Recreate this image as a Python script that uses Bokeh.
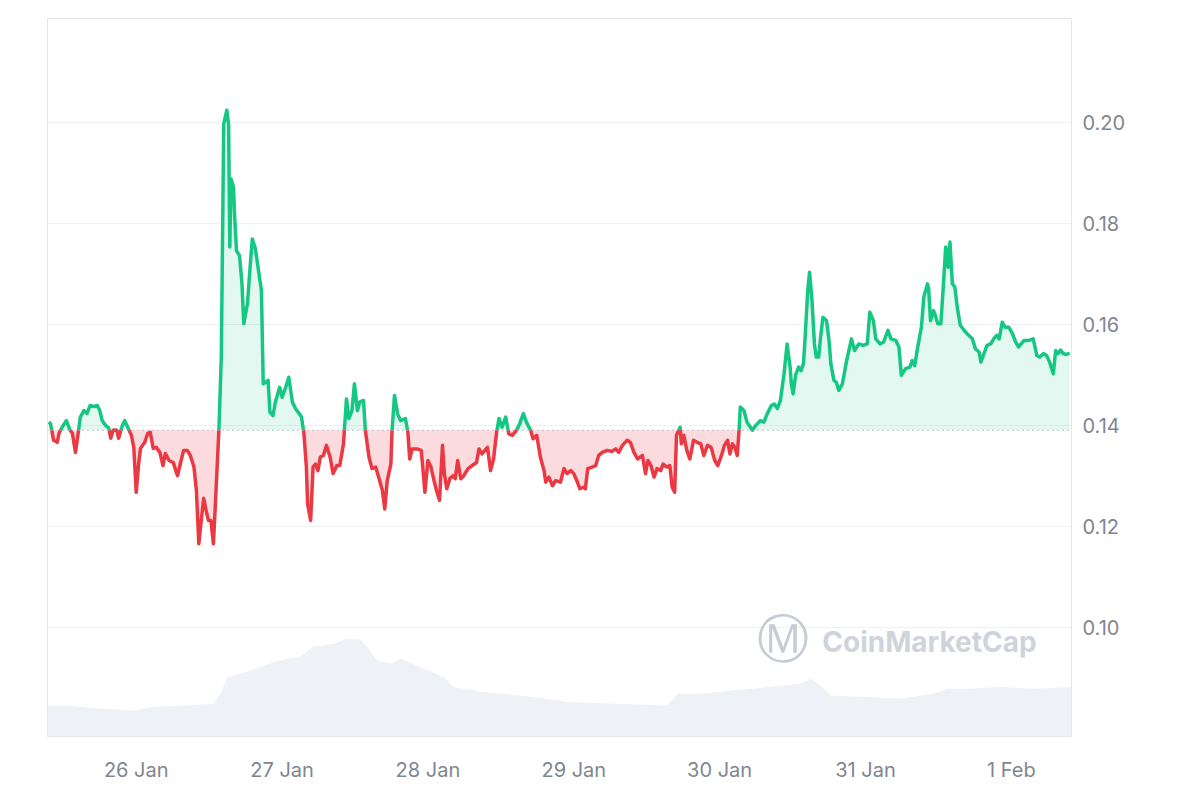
import numpy as np
from bokeh.plotting import figure
from bokeh.models import Range1d, FixedTicker, PrintfTickFormatter, Span, Label
from bokeh.embed import file_html
from bokeh.resources import INLINE

# ---- data -------------------------------------------------------------
# hours counted from 25 Jan 00:00
hours = [
    9.6, 9.9, 10.4, 11.0, 11.3, 11.8, 12.5, 13.1, 13.5, 14.0,
    14.4, 14.8, 15.4, 15.9, 16.4, 17.0, 17.6, 18.0, 18.4, 19.0,
    19.5, 19.8, 20.2, 20.8, 21.1, 21.7, 22.1, 22.6, 23.2, 23.6,
    24.0, 24.4, 24.7, 25.4, 25.9, 26.3, 26.8, 27.3, 27.9, 28.4,
    28.8, 29.4, 30.1, 30.5, 30.8, 31.3, 31.8, 32.4, 32.9, 33.5,
    33.9, 34.3, 34.7, 35.1, 35.6, 35.9, 36.3, 36.7, 37.0, 37.6,
    38.0, 38.4, 38.9, 39.2, 39.4, 39.6, 40.0, 40.2, 40.5, 41.0,
    41.4, 41.7, 42.3, 42.7, 43.1, 43.6, 44.2, 44.6, 44.9, 45.3,
    45.7, 46.0, 46.5, 46.9, 47.6, 48.0, 48.6, 49.1, 49.7, 50.2,
    50.8, 51.2, 51.6, 52.0, 52.2, 52.7, 53.1, 53.5, 53.9, 54.3,
    54.8, 55.3, 55.9, 56.4, 57.0, 57.5, 58.1, 58.6, 59.0, 59.5,
    59.9, 60.4, 60.8, 61.4, 61.7, 62.3, 62.8, 63.4, 63.9, 64.5,
    64.9, 65.3, 65.9, 66.1, 66.5, 67.0, 67.5, 68.3, 68.7, 69.0,
    69.4, 70.2, 70.9, 71.2, 71.5, 72.0, 72.5, 73.0, 73.4, 73.9,
    74.4, 74.7, 75.1, 75.6, 76.2, 76.5, 76.9, 77.4, 77.9, 78.6,
    79.3, 80.0, 80.4, 80.9, 81.8, 82.3, 82.8, 83.3, 83.7, 84.2,
    84.8, 85.3, 85.9, 86.6, 87.1, 87.7, 88.2, 88.9, 89.3, 89.9,
    90.5, 91.1, 91.4, 91.9, 92.5, 93.0, 93.8, 94.4, 94.9, 95.5,
    96.0, 96.5, 97.0, 97.6, 97.9, 98.3, 99.0, 99.6, 100.1, 100.7,
    101.5, 102.3, 102.9, 103.4, 104.0, 104.8, 105.3, 105.9, 106.5, 107.3,
    107.8, 108.2, 108.7, 109.2, 109.7, 110.3, 110.7, 111.3, 111.8, 112.2,
    112.6, 112.9, 113.5, 113.7, 114.1, 114.6, 115.1, 115.7, 116.3, 116.9,
    117.4, 118.0, 118.6, 119.2, 119.7, 120.3, 120.8, 121.3, 121.7, 122.1,
    122.5, 122.9, 123.2, 123.4, 124.0, 124.5, 125.4, 125.9, 126.7, 127.3,
    127.7, 128.1, 128.5, 129.0, 129.5, 130.0, 130.6, 131.1, 131.6, 131.8,
    132.1, 132.5, 133.0, 133.4, 133.8, 134.1, 134.5, 134.8, 135.2, 135.6,
    135.9, 136.3, 136.6, 137.0, 137.6, 138.0, 138.3, 138.8, 139.2, 139.6,
    140.2, 140.9, 141.7, 142.2, 142.9, 143.6, 144.3, 144.7, 145.3, 145.7,
    146.4, 147.0, 147.7, 148.2, 149.0, 149.5, 149.9, 150.6, 151.3, 151.7,
    152.1, 152.6, 153.2, 153.6, 154.2, 154.4, 154.7, 155.2, 155.5, 155.9,
    156.4, 156.8, 157.2, 157.6, 157.9, 158.3, 158.7, 159.1, 159.6, 160.5,
    161.0, 161.6, 162.1, 162.7, 163.0, 163.5, 164.0, 164.6, 165.1, 165.6,
    166.0, 166.5, 167.0, 167.6, 168.2, 168.7, 169.2, 170.1, 170.9, 171.6,
    172.2, 172.7, 173.3, 173.8, 174.3, 174.9, 175.3, 175.7, 176.1, 176.5,
    177.1, 177.6,
]
price = [
    0.1407, 0.1404, 0.1371, 0.1367, 0.1385, 0.1397, 0.1410, 0.1391, 0.1385, 0.1347,
    0.1381, 0.1417, 0.1430, 0.1424, 0.1440, 0.1438, 0.1440, 0.1430, 0.1410, 0.1400,
    0.1395, 0.1375, 0.1391, 0.1391, 0.1375, 0.1400, 0.1410, 0.1397, 0.1381, 0.1357,
    0.1268, 0.1325, 0.1355, 0.1367, 0.1385, 0.1387, 0.1355, 0.1357, 0.1347, 0.1321,
    0.1345, 0.1331, 0.1327, 0.1311, 0.1301, 0.1327, 0.1351, 0.1351, 0.1341, 0.1318,
    0.1272, 0.1166, 0.1212, 0.1256, 0.1226, 0.1212, 0.1212, 0.1166, 0.1238, 0.1391,
    0.1536, 0.1998, 0.2025, 0.1998, 0.1754, 0.1889, 0.1873, 0.1813, 0.1747, 0.1737,
    0.1681, 0.1602, 0.1642, 0.1708, 0.1770, 0.1751, 0.1701, 0.1668, 0.1483, 0.1486,
    0.1490, 0.1427, 0.1420, 0.1447, 0.1476, 0.1456, 0.1476, 0.1496, 0.1447, 0.1434,
    0.1424, 0.1417, 0.1384, 0.1318, 0.1245, 0.1212, 0.1318, 0.1324, 0.1311, 0.1338,
    0.1341, 0.1361, 0.1338, 0.1305, 0.1321, 0.1321, 0.1364, 0.1453, 0.1414, 0.1430,
    0.1483, 0.1430, 0.1447, 0.1450, 0.1391, 0.1338, 0.1315, 0.1318, 0.1298, 0.1272,
    0.1235, 0.1291, 0.1324, 0.1391, 0.1460, 0.1424, 0.1410, 0.1414, 0.1387, 0.1334,
    0.1354, 0.1354, 0.1351, 0.1311, 0.1268, 0.1331, 0.1318, 0.1291, 0.1272, 0.1252,
    0.1361, 0.1305, 0.1275, 0.1295, 0.1301, 0.1295, 0.1331, 0.1295, 0.1301, 0.1315,
    0.1321, 0.1327, 0.1354, 0.1344, 0.1357, 0.1311, 0.1334, 0.1387, 0.1414, 0.1397,
    0.1417, 0.1384, 0.1381, 0.1391, 0.1404, 0.1424, 0.1407, 0.1391, 0.1374, 0.1381,
    0.1338, 0.1311, 0.1288, 0.1298, 0.1281, 0.1291, 0.1288, 0.1315, 0.1305, 0.1311,
    0.1305, 0.1291, 0.1275, 0.1278, 0.1275, 0.1315, 0.1318, 0.1321, 0.1341, 0.1347,
    0.1351, 0.1349, 0.1354, 0.1347, 0.1361, 0.1371, 0.1367, 0.1347, 0.1334, 0.1341,
    0.1305, 0.1331, 0.1321, 0.1298, 0.1315, 0.1311, 0.1324, 0.1318, 0.1321, 0.1278,
    0.1268, 0.1381, 0.1397, 0.1364, 0.1381, 0.1351, 0.1334, 0.1371, 0.1367, 0.1364,
    0.1341, 0.1361, 0.1357, 0.1331, 0.1321, 0.1341, 0.1361, 0.1371, 0.1344, 0.1364,
    0.1357, 0.1341, 0.1391, 0.1437, 0.1430, 0.1407, 0.1391, 0.1400, 0.1410, 0.1407,
    0.1420, 0.1430, 0.1440, 0.1443, 0.1434, 0.1450, 0.1503, 0.1562, 0.1516, 0.1483,
    0.1463, 0.1500, 0.1516, 0.1509, 0.1523, 0.1582, 0.1668, 0.1704, 0.1648, 0.1562,
    0.1536, 0.1536, 0.1575, 0.1615, 0.1608, 0.1569, 0.1523, 0.1490, 0.1486, 0.1470,
    0.1483, 0.1529, 0.1572, 0.1549, 0.1562, 0.1559, 0.1562, 0.1625, 0.1608, 0.1572,
    0.1562, 0.1566, 0.1589, 0.1572, 0.1569, 0.1556, 0.1500, 0.1513, 0.1516, 0.1529,
    0.1519, 0.1556, 0.1595, 0.1655, 0.1681, 0.1671, 0.1608, 0.1628, 0.1618, 0.1602,
    0.1602, 0.1675, 0.1754, 0.1714, 0.1764, 0.1681, 0.1675, 0.1635, 0.1599, 0.1585,
    0.1579, 0.1572, 0.1552, 0.1546, 0.1526, 0.1543, 0.1559, 0.1562, 0.1572, 0.1579,
    0.1572, 0.1605, 0.1595, 0.1595, 0.1582, 0.1566, 0.1556, 0.1569, 0.1569, 0.1572,
    0.1539, 0.1536, 0.1543, 0.1539, 0.1526, 0.1503, 0.1549, 0.1543, 0.1550, 0.1543,
    0.1541, 0.1544,
]
base_price = 0.1391  # reference (opening) price, dotted line

vol_hours = [9.4, 12.6, 18.1, 23.6, 26.4, 31.8, 36.7, 37.9, 39.0, 41.2,
             44.5, 47.3, 51.0, 53.0, 56.5, 58.7, 60.9, 62.0, 63.7, 65.8,
             67.5, 70.8, 74.6, 76.2, 81.2, 89.4, 95.0, 103.2, 111.4, 113.1,
             116.9, 122.3, 127.9, 133.3, 135.0, 136.6, 138.3, 144.3, 149.8, 155.2,
             157.5, 160.8, 166.2, 171.7, 177.9]
volume = [15.5, 15.5, 13.9, 13.0, 14.7, 15.5, 16.4, 21.5, 29.7, 31.4,
          34.7, 38.0, 39.7, 44.7, 46.4, 48.9, 48.4, 44.7, 38.0, 36.4,
          38.9, 34.7, 29.7, 24.7, 22.2, 19.7, 17.2, 16.4, 15.5, 21.4,
          21.4, 23.0, 24.7, 26.4, 28.9, 25.5, 20.5, 19.7, 18.9, 21.4,
          23.9, 23.9, 24.7, 23.9, 24.7]

day_ticks = [24, 48, 72, 96, 120, 144, 168]
day_labels = ["26 Jan", "27 Jan", "28 Jan", "29 Jan", "30 Jan", "31 Jan", "1 Feb"]
price_ticks = [0.10, 0.12, 0.14, 0.16, 0.18, 0.20]

# ---- derive split series at the baseline --------------------------------
n = min(len(hours), len(price))
t_in = np.array(hours[:n], dtype=float)
y_in = np.array(price[:n], dtype=float)
T, Y = [t_in[0]], [y_in[0]]
for i in range(1, n):
    a, b = y_in[i - 1] - base_price, y_in[i] - base_price
    if a * b < 0:
        f = a / (a - b)
        T.append(t_in[i - 1] + f * (t_in[i] - t_in[i - 1]))
        Y.append(base_price)
    T.append(t_in[i])
    Y.append(y_in[i])
T = np.array(T)
Y = np.array(Y)
up = np.where(Y >= base_price, Y, np.nan)
dn = np.where(Y <= base_price, Y, np.nan)

GREEN = "#16c784"
RED = "#ea3943"
LABEL_COLOR = "#80868f"

p = figure(width=1200, height=800, output_backend="svg", toolbar_location=None,
           x_range=Range1d(vol_hours[0], vol_hours[-1]),
           y_range=Range1d(0.0784, 0.2207),
           y_axis_location="right",
           min_border_left=47, min_border_right=129,
           min_border_top=18, min_border_bottom=64)
p.extra_y_ranges = {"vol": Range1d(0, 359)}

p.background_fill_color = "white"
p.border_fill_color = "white"
p.outline_line_color = "#e2e5e9"
p.outline_line_width = 1

# volume area
p.varea(x=vol_hours, y1=[0] * len(vol_hours), y2=volume, y_range_name="vol",
        fill_color="#eef1f5")

# fills
p.varea(x=T, y1=np.full_like(Y, base_price), y2=np.maximum(Y, base_price),
        fill_color=GREEN, fill_alpha=0.12)
p.varea(x=T, y1=np.minimum(Y, base_price), y2=np.full_like(Y, base_price),
        fill_color=RED, fill_alpha=0.18)

p.add_layout(Span(location=base_price, dimension="width", line_color="#8a8f99",
                  line_width=1, line_dash="1 4"))

# watermark
p.add_layout(Label(x=130.5, y=0.0978, text="\u24c2", text_align="center",
                   text_baseline="middle", text_font_size="52px",
                   text_font="DejaVu Sans", text_color="#c6cbd4"))
p.add_layout(Label(x=136.9, y=0.0972, text="CoinMarketCap", text_align="left",
                   text_baseline="middle", text_font_size="28px",
                   text_font="Inter", text_font_style="bold", text_color="#cfd3db"))

# price lines
p.line(T, up, line_color=GREEN, line_width=3.5, line_join="round")
p.line(T, dn, line_color=RED, line_width=3.5, line_join="round")

# axes
p.xgrid.grid_line_color = None
p.ygrid.grid_line_color = "#eff1f4"
p.ygrid.ticker = FixedTicker(ticks=price_ticks)

yax = p.yaxis[0]
yax.ticker = FixedTicker(ticks=price_ticks)
yax.formatter = PrintfTickFormatter(format="%.2f")
xax = p.xaxis[0]
xax.ticker = FixedTicker(ticks=day_ticks)
xax.major_label_overrides = {float(k): v for k, v in zip(day_ticks, day_labels)}

for ax in (xax, yax):
    ax.axis_line_color = None
    ax.major_tick_line_color = None
    ax.minor_tick_line_color = None
    ax.major_label_text_color = LABEL_COLOR
    ax.major_label_text_font = "Inter"
    ax.major_label_text_font_size = "20px"
yax.major_label_standoff = 5
xax.major_label_standoff = 15

open("out.html", "w").write(file_html(p, INLINE))
